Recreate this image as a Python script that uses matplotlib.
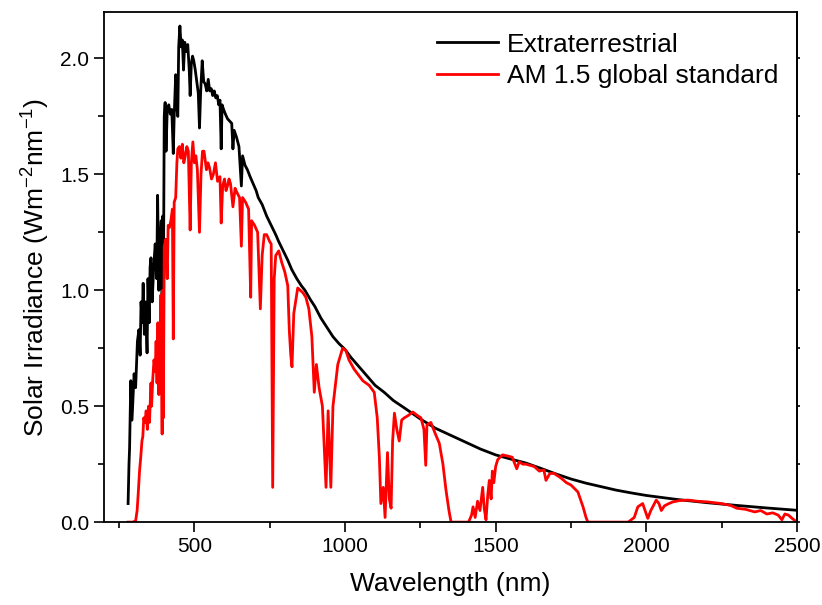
import matplotlib
matplotlib.use("Agg")
import matplotlib.pyplot as plt
from matplotlib.ticker import MultipleLocator

plt.rcParams['font.family'] = ['Liberation Sans', 'DejaVu Sans']
plt.rcParams['mathtext.fontset'] = 'custom'
plt.rcParams['mathtext.rm'] = 'Liberation Sans'
plt.rcParams['mathtext.it'] = 'Liberation Sans'

# extraterrestrial spectrum (nm, W m-2 nm-1)
ext_wl = [280, 283, 285, 289, 293, 297, 300, 305, 311, 316, 320, 323, 327, 330, 334,
          338, 343, 346, 350, 353, 356, 360, 365, 370, 375, 378, 382, 385, 390, 393,
          395, 397, 400, 403, 406, 410, 415, 420, 425, 430, 433, 438, 441, 445, 448,
          452, 456, 460, 464, 468, 473, 478, 483, 486, 490, 494, 498, 503, 508, 513,
          517, 521, 526, 531, 536, 541, 546, 551, 556, 561, 566, 571, 576, 581, 585,
          589, 592, 597, 603, 610, 617, 624, 628, 632, 640, 648, 656, 660, 668, 676,
          685, 695, 705, 712, 725, 740, 755, 770, 780, 795, 810, 823, 840, 855, 867,
          885, 900, 920, 940, 960, 980, 1000, 1020, 1050, 1080, 1100, 1130, 1160, 1200,
          1250, 1300, 1350, 1400, 1450, 1480, 1500, 1550, 1600, 1650, 1700, 1750, 1800,
          1850, 1900, 1950, 2000, 2100, 2200, 2300, 2400, 2500]
ext_val = [0.08, 0.25, 0.32, 0.61, 0.44, 0.55, 0.64, 0.58, 0.78, 0.83, 0.72, 0.95, 0.86, 1.03, 0.81,
           0.95, 0.73, 1.05, 0.86, 1.10, 1.14, 0.95, 1.10, 1.20, 1.05, 1.41, 1.00, 1.15, 1.30, 0.90,
           1.32, 0.95, 1.75, 1.81, 1.60, 1.78, 1.80, 1.76, 1.78, 1.59, 1.75, 1.93, 1.80, 1.75, 2.05,
           2.14, 2.05, 2.08, 1.95, 2.07, 2.03, 2.06, 1.95, 1.84, 1.98, 2.01, 1.99, 1.95, 1.90, 1.85,
           1.70, 1.86, 1.99, 1.90, 1.89, 1.86, 1.91, 1.86, 1.87, 1.84, 1.86, 1.83, 1.84, 1.80, 1.82,
           1.61, 1.80, 1.78, 1.76, 1.74, 1.73, 1.72, 1.61, 1.69, 1.66, 1.62, 1.45, 1.58, 1.54, 1.52,
           1.49, 1.46, 1.43, 1.40, 1.37, 1.32, 1.28, 1.24, 1.21, 1.17, 1.13, 1.09, 1.05, 1.02, 1.00,
           0.96, 0.93, 0.88, 0.84, 0.80, 0.77, 0.745, 0.71, 0.665, 0.62, 0.59, 0.56, 0.525, 0.49,
           0.445, 0.405, 0.375, 0.345, 0.315, 0.30, 0.29, 0.272, 0.255, 0.232, 0.208, 0.186, 0.168,
           0.153, 0.138, 0.126, 0.115, 0.098, 0.084, 0.072, 0.061, 0.051]

# AM 1.5 global standard spectrum
am_wl = [280, 295, 305, 310, 314, 318, 322, 326, 329, 332, 336, 340, 344, 348, 351,
         356, 358, 362, 366, 370, 373, 376, 379, 382, 386, 389, 393, 395, 397, 400,
         405, 410, 413, 417, 422, 427, 430, 433, 438, 442, 445, 450, 455, 460, 465,
         470, 475, 480, 486, 490, 495, 500, 505, 510, 517, 522, 527, 532, 540, 545,
         550, 557, 563, 570, 577, 585, 589, 594, 600, 605, 610, 615, 620, 628, 635,
         642, 650, 656, 660, 670, 680, 687, 690, 700, 710, 719, 725, 732, 740, 750,
         755, 760, 765, 770, 780, 790, 800, 810, 815, 820, 824, 830, 843, 860, 870,
         880, 890, 898, 905, 914, 925, 937, 944, 953, 960, 976, 992, 1003, 1013, 1030,
         1059, 1080, 1097, 1107, 1114, 1119, 1127, 1133, 1141, 1147, 1153, 1158, 1164, 1172, 1180,
         1188, 1197, 1210, 1225, 1240, 1252, 1262, 1268, 1272, 1285, 1300, 1313, 1325, 1335, 1345,
         1352, 1410, 1420, 1425, 1432, 1440, 1448, 1457, 1462, 1468, 1474, 1479, 1485, 1489, 1494,
         1500, 1507, 1523, 1540, 1555, 1570, 1578, 1590, 1600, 1628, 1645, 1660, 1667, 1680, 1694,
         1717, 1735, 1750, 1773, 1790, 1800, 1806, 1940, 1960, 1972, 1988, 1996, 2005, 2015, 2033,
         2042, 2050, 2060, 2075, 2088, 2110, 2138, 2170, 2205, 2249, 2280, 2300, 2330, 2360, 2380,
         2400, 2420, 2438, 2450, 2460, 2472, 2485, 2500]
am_val = [0.0, 0.0, 0.005, 0.05, 0.13, 0.22, 0.28, 0.35, 0.37, 0.45, 0.43, 0.48, 0.40, 0.50, 0.43,
          0.60, 0.50, 0.62, 0.70, 0.65, 0.78, 0.60, 0.86, 0.55, 0.72, 0.98, 0.38, 1.00, 0.45, 1.19,
          1.22, 1.05, 1.28, 1.27, 1.30, 1.35, 0.79, 1.38, 1.40, 1.55, 1.61, 1.62, 1.57, 1.63, 1.55,
          1.58, 1.62, 1.60, 1.26, 1.55, 1.64, 1.55, 1.58, 1.52, 1.25, 1.50, 1.60, 1.60, 1.52, 1.55,
          1.53, 1.48, 1.50, 1.55, 1.47, 1.49, 1.29, 1.45, 1.48, 1.43, 1.45, 1.48, 1.46, 1.36, 1.44,
          1.42, 1.40, 1.19, 1.40, 1.38, 1.35, 0.97, 1.30, 1.28, 1.25, 0.92, 1.15, 1.24, 1.24, 1.21,
          1.20, 0.15, 1.05, 1.15, 1.17, 1.12, 1.08, 1.02, 0.83, 0.72, 0.67, 0.90, 1.01, 0.99, 0.97,
          0.92, 0.80, 0.56, 0.68, 0.58, 0.50, 0.15, 0.48, 0.15, 0.50, 0.68, 0.75, 0.74, 0.70, 0.66,
          0.61, 0.59, 0.56, 0.45, 0.28, 0.08, 0.15, 0.02, 0.30, 0.10, 0.06, 0.35, 0.47, 0.40, 0.35,
          0.44, 0.45, 0.46, 0.475, 0.46, 0.45, 0.40, 0.245, 0.42, 0.43, 0.38, 0.34, 0.25, 0.14, 0.05,
          0.0, 0.0, 0.03, 0.066, 0.02, 0.09, 0.05, 0.15, 0.06, 0.01, 0.12, 0.18, 0.10, 0.22, 0.17,
          0.24, 0.27, 0.29, 0.285, 0.28, 0.23, 0.26, 0.25, 0.25, 0.24, 0.22, 0.225, 0.18, 0.21, 0.21,
          0.19, 0.17, 0.16, 0.13, 0.066, 0.02, 0.0, 0.0, 0.02, 0.066, 0.08, 0.05, 0.016, 0.05, 0.095,
          0.08, 0.05, 0.07, 0.08, 0.087, 0.093, 0.095, 0.09, 0.087, 0.08, 0.072, 0.06, 0.055, 0.044, 0.05,
          0.035, 0.04, 0.03, 0.01, 0.035, 0.03, 0.015, 0.0]

fig = plt.figure(figsize=(8.22, 6.05), dpi=100)
ax = fig.add_axes([0.1265, 0.137, 0.843, 0.843])

ax.plot(ext_wl, ext_val, color='black', lw=2.0, label='Extraterrestrial')
ax.plot(am_wl, am_val, color='red', lw=2.0, label='AM 1.5 global standard')

ax.set_xlim(200, 2500)
ax.set_ylim(0, 2.2)
ax.xaxis.set_major_locator(MultipleLocator(500))
ax.xaxis.set_minor_locator(MultipleLocator(250))
ax.yaxis.set_major_locator(MultipleLocator(0.5))
ax.yaxis.set_minor_locator(MultipleLocator(0.25))
ax.yaxis.set_major_formatter(matplotlib.ticker.FormatStrFormatter('%.1f'))

ax.tick_params(which='both', direction='out', labelsize=15, width=1.2)
ax.tick_params(which='major', length=7)
ax.tick_params(which='minor', length=4)
for s in ax.spines.values():
    s.set_linewidth(1.3)

# tiny ticks on the right spine
sec = ax.secondary_yaxis('right')
sec.yaxis.set_major_locator(MultipleLocator(0.5))
sec.yaxis.set_minor_locator(MultipleLocator(0.25))
sec.tick_params(which='both', direction='out', length=2, width=1.2, labelright=False)
sec.spines['right'].set_linewidth(1.3)

ax.set_xlabel('Wavelength (nm)', fontsize=19, labelpad=12)
ax.set_ylabel('Solar Irradiance (Wm$^{-2}$nm$^{-1}$)', fontsize=19, labelpad=6)

ax.legend(loc='upper left', bbox_to_anchor=(0.516, 0.968), bbox_transform=fig.transFigure,
          frameon=False, fontsize=19, handlelength=2.3, handletextpad=0.35,
          labelspacing=0.3, borderpad=0)

fig.savefig('out.png', dpi=100)
